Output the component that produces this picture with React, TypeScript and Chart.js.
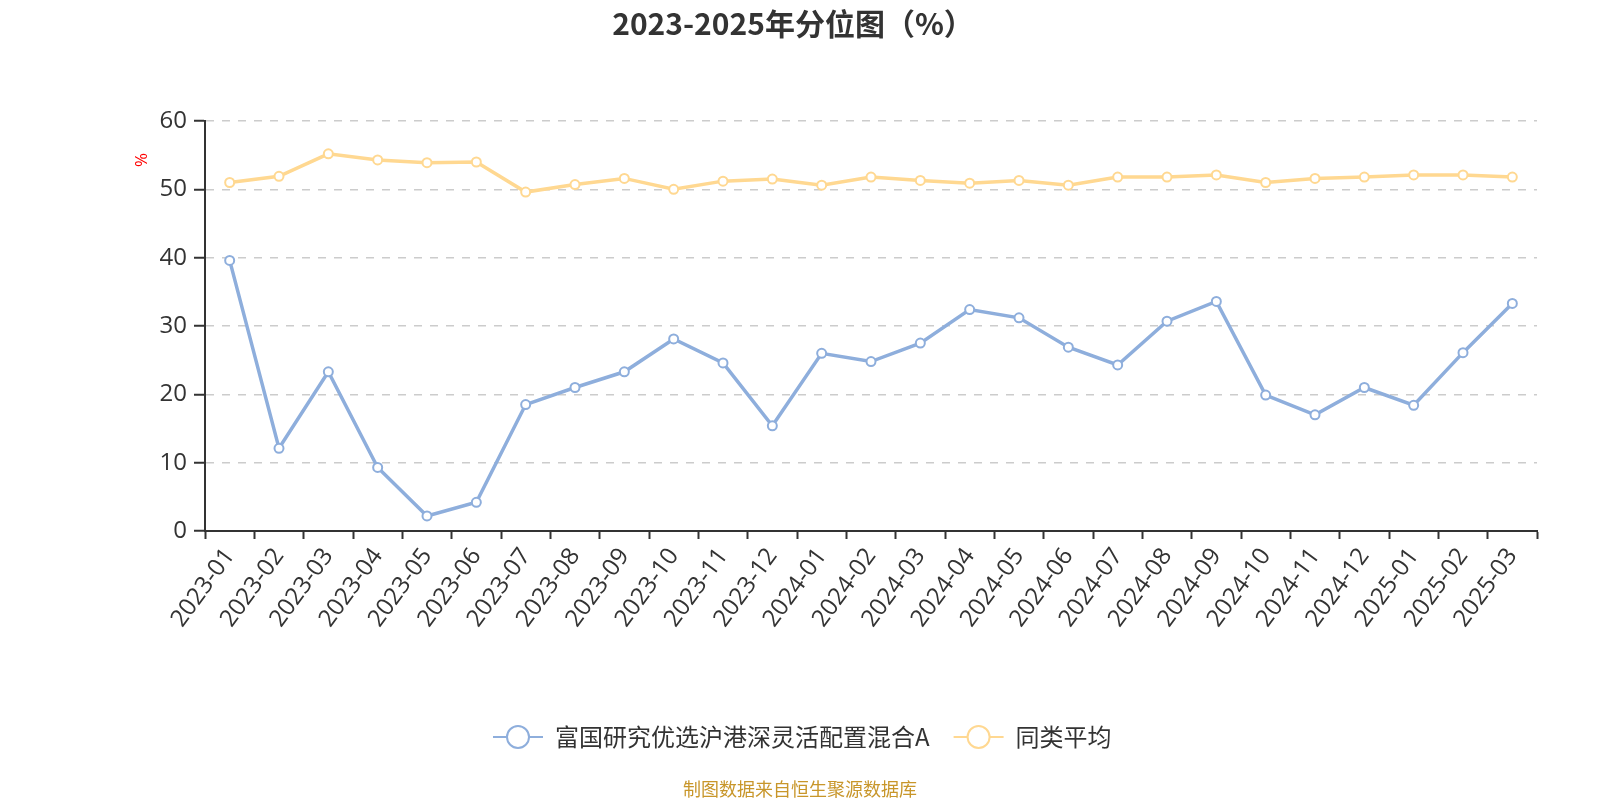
import React, { useEffect, useRef } from "react";
import { Chart, registerables } from "chart.js";

Chart.register(...registerables);

const categories = [
  "2023-01", "2023-02", "2023-03", "2023-04", "2023-05", "2023-06", "2023-07", "2023-08", "2023-09",
  "2023-10", "2023-11", "2023-12", "2024-01", "2024-02", "2024-03", "2024-04", "2024-05", "2024-06",
  "2024-07", "2024-08", "2024-09", "2024-10", "2024-11", "2024-12", "2025-01", "2025-02", "2025-03",
];

const fundName = "富国研究优选沪港深灵活配置混合A";
const fundValues = [
  39.6, 12.1, 23.3, 9.3, 2.2, 4.2, 18.5, 21.0, 23.3, 28.1, 24.6, 15.4, 26.0, 24.8, 27.5, 32.4, 31.2,
  26.9, 24.3, 30.7, 33.6, 19.9, 17.0, 21.0, 18.4, 26.1, 33.3,
];

const avgName = "同类平均";
const avgValues = [
  51.0, 51.9, 55.2, 54.3, 53.9, 54.0, 49.6, 50.7, 51.6, 50.0, 51.2, 51.5, 50.6, 51.8, 51.3, 50.9, 51.3,
  50.6, 51.8, 51.8, 52.1, 51.0, 51.6, 51.8, 52.1, 52.1, 51.8,
];

const titleText = "2023-2025年分位图（%）";
const yUnit = "%";
const footerText = "制图数据来自恒生聚源数据库";
const yTicks = [0, 10, 20, 30, 40, 50, 60];

const BLUE = "rgb(142,174,220)";
const YELLOW = "rgb(255,216,145)";
const FONT = "'Open Sans', 'Noto Sans CJK SC', sans-serif";
const CJK = "'Noto Sans CJK SC', 'Open Sans', sans-serif";

const decorPlugin = {
  id: "decor",
  afterDraw(chart: any) {
    const ctx = chart.ctx as CanvasRenderingContext2D;
    ctx.save();
    // title
    ctx.fillStyle = "#333";
    ctx.font = `bold 30px ${CJK}`;
    ctx.textAlign = "center";
    ctx.textBaseline = "middle";
    ctx.fillText(titleText, 793, 24);

    // y unit
    ctx.save();
    ctx.translate(142, 160);
    ctx.rotate(-Math.PI / 2);
    ctx.fillStyle = "red";
    ctx.font = `17px ${FONT}`;
    ctx.textAlign = "center";
    ctx.textBaseline = "middle";
    ctx.fillText(yUnit, 0, 0);
    ctx.restore();

    // legend
    const items = [
      { name: fundName, color: BLUE },
      { name: avgName, color: YELLOW },
    ];
    ctx.font = `24px ${CJK}`;
    const iconW = 50;
    const gapIconText = 12;
    const gapItems = 24;
    let x = 493;
    const y = 737;
    items.forEach((it) => {
      ctx.strokeStyle = it.color;
      ctx.lineWidth = 2;
      ctx.beginPath();
      ctx.moveTo(x, y);
      ctx.lineTo(x + iconW, y);
      ctx.stroke();
      ctx.beginPath();
      ctx.arc(x + iconW / 2, y, 11, 0, Math.PI * 2);
      ctx.fillStyle = "#fff";
      ctx.fill();
      ctx.stroke();
      ctx.fillStyle = "#333";
      ctx.textAlign = "left";
      ctx.textBaseline = "middle";
      const tx = x + iconW + gapIconText;
      ctx.fillText(it.name, tx, y);
      x = tx + ctx.measureText(it.name).width + gapItems;
    });

    // footer
    ctx.fillStyle = "#c8962a";
    ctx.font = `18px ${CJK}`;
    ctx.textAlign = "center";
    ctx.textBaseline = "middle";
    ctx.fillText(footerText, 800, 789);
    ctx.restore();
  },
};

export default function App() {
  const ref = useRef<HTMLCanvasElement | null>(null);
  useEffect(() => {
    document.body.style.margin = "0";
    const canvas = ref.current;
    if (!canvas) return;
    const mkDs = (label: string, data: number[], color: string) => ({
      label,
      data,
      borderColor: color,
      backgroundColor: color,
      borderWidth: 3.5,
      pointRadius: 4.5,
      pointBorderWidth: 2,
      pointBackgroundColor: "#fff",
      pointBorderColor: color,
      tension: 0,
    });
    const chart = new Chart(canvas, {
      type: "line",
      data: {
        labels: categories,
        datasets: [mkDs(fundName, fundValues, BLUE), mkDs(avgName, avgValues, YELLOW)],
      },
      options: {
        animation: false,
        responsive: false,
        maintainAspectRatio: false,
        layout: { padding: { left: 141, right: 63, top: 121, bottom: 69 } },
        plugins: { legend: { display: false }, title: { display: false }, tooltip: { enabled: false } },
        scales: {
          x: {
            type: "category",
            offset: true,
            grid: {
              offset: true,
              drawOnChartArea: false,
              drawTicks: true,
              tickLength: 8,
              tickColor: "#333",
              tickWidth: 2,
            },
            border: { display: true, color: "#333", width: 2 },
            ticks: {
              autoSkip: false,
              minRotation: 54,
              maxRotation: 54,
              color: "#333",
              font: { size: 24, family: FONT },
              padding: 4,
            },
            afterFit: (s: any) => {
              s.height = 200;
            },
          },
          y: {
            min: 0,
            max: 60,
            afterBuildTicks: (s: any) => {
              s.ticks = yTicks.map((v) => ({ value: v }));
            },
            grid: {
              color: "#ccc",
              lineWidth: 1.5,
              drawTicks: true,
              tickLength: 11,
              tickColor: "#333",
              tickWidth: 2,
            },
            border: { display: true, color: "#333", width: 2, dash: [8, 8] },
            ticks: {
              color: "#333",
              font: { size: 24, family: FONT },
              padding: 7,
            },
            afterFit: (s: any) => {
              s.width = 64;
            },
          },
        },
      },
      plugins: [decorPlugin],
    });
    return () => chart.destroy();
  }, []);
  return (
    <div style={{ width: 1600, height: 800, position: "relative" }}>
      <canvas ref={ref} width={1600} height={800} style={{ width: 1600, height: 800, display: "block" }} />
    </div>
  );
}
